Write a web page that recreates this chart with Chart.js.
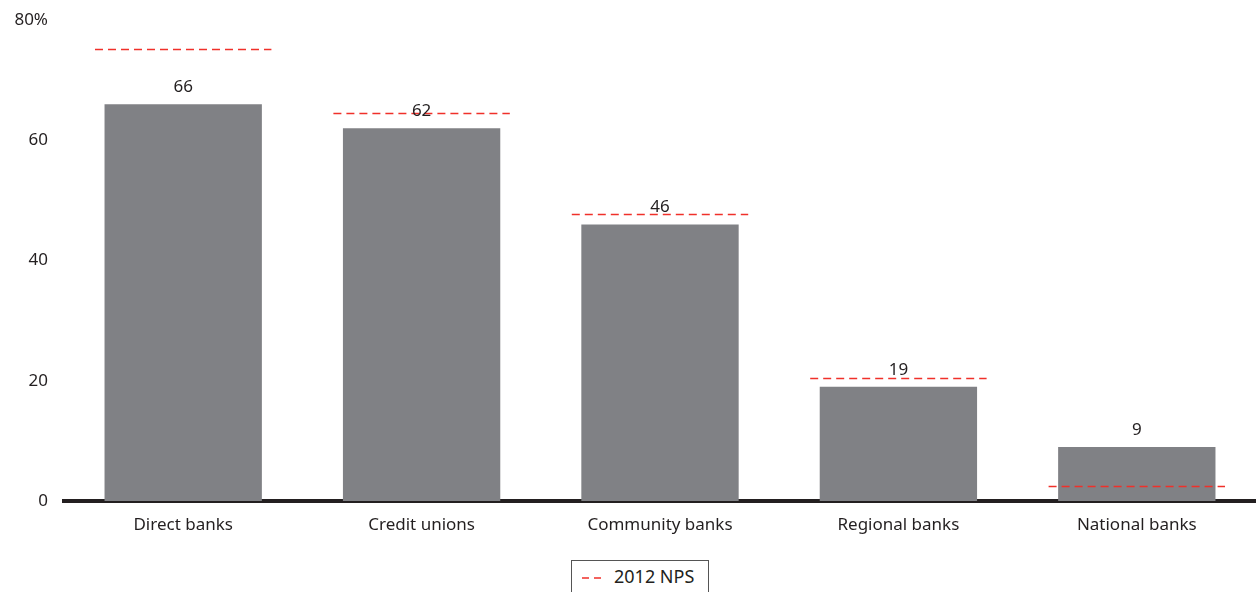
<!DOCTYPE html>
<html>
<head>
<meta charset="utf-8">
<script src="https://cdn.jsdelivr.net/npm/chart.js@4/dist/chart.umd.min.js"></script>
<style>
  html, body { margin: 0; padding: 0; background: #fff; }
  body { width: 1256px; height: 592px; overflow: hidden; font-family: "Noto Sans", "DejaVu Sans", sans-serif; }
  #wrap { position: relative; width: 1256px; height: 552px; }
  #legend {
    position: absolute; left: 571px; top: 560px; width: 138px; height: 40px;
    border: 1px solid #555; box-sizing: border-box;
    font-size: 18px; color: #231f20; line-height: 30px; padding-left: 10px;
  }
  #legend svg { vertical-align: middle; margin-right: 9px; }
</style>
</head>
<body>
<div id="wrap"><canvas id="myChart"></canvas></div>
<div id="legend"><svg width="23" height="4"><line x1="0" y1="2" x2="23" y2="2" stroke="#f0302a" stroke-width="1.5" stroke-dasharray="7,5"/></svg>2012 NPS</div>
<script>
// datos
const categorias = ['Direct banks', 'Credit unions', 'Community banks', 'Regional banks', 'National banks'];
const nps2015 = [66, 62, 46, 19, 9];
const nps2012 = [75.2, 64.5, 47.8, 20.5, 2.5];
const ticksY = [0, 20, 40, 60, 80];

const colorTexto = '#231f20';
const fuente = '"Noto Sans", "DejaVu Sans", sans-serif';

// etiquetas encima de cada barra y lineas punteadas de 2012
const extras = {
  id: 'extras',
  afterDatasetsDraw(chart) {
    const ctx = chart.ctx;
    const x = chart.scales.x;
    const y = chart.scales.y;
    const meta = chart.getDatasetMeta(0);
    const ancho = x.width / categorias.length * 0.74;

    ctx.save();
    ctx.strokeStyle = '#f0302a';
    ctx.lineWidth = 1.5;
    ctx.setLineDash([8, 5]);
    nps2012.forEach((v, i) => {
      const cx = x.getPixelForValue(i);
      const py = Math.round(y.getPixelForValue(v)) + 0.5;
      ctx.beginPath();
      ctx.moveTo(cx - ancho / 2, py);
      ctx.lineTo(cx + ancho / 2, py);
      ctx.stroke();
    });
    ctx.setLineDash([]);

    ctx.fillStyle = colorTexto;
    ctx.font = '17px ' + fuente;
    ctx.textAlign = 'center';
    ctx.textBaseline = 'middle';
    meta.data.forEach((bar, i) => {
      ctx.fillText(String(nps2015[i]), bar.x, bar.y - 17);
    });
    ctx.restore();
  }
};

function grafico() {
  const ctx = document.getElementById('myChart');
  new Chart(ctx, {
    type: 'bar',
    data: {
      labels: categorias,
      datasets: [{
        label: '2015 NPS',
        data: nps2015,
        backgroundColor: '#808185',
        barPercentage: 0.66,
        categoryPercentage: 1
      }]
    },
    options: {
      responsive: true,
      maintainAspectRatio: false,
      animation: false,
      layout: { padding: 0 },
      plugins: { legend: { display: false }, tooltip: { enabled: false } },
      scales: {
        x: {
          grid: { display: false },
          border: { display: true, color: colorTexto, width: 4 },
          ticks: { color: colorTexto, font: { size: 17, family: fuente }, padding: 6 },
          afterFit(s) { s.height = 51; }
        },
        y: {
          min: 0, max: 80,
          grid: { display: false },
          border: { display: false },
          afterBuildTicks(s) { s.ticks = ticksY.map(v => ({ value: v })); },
          ticks: {
            color: colorTexto,
            font: { size: 17, family: fuente },
            padding: 8,
            callback: v => v === 80 ? '80%' : String(v)
          },
          afterFit(s) { s.width = 64; s.paddingTop = 20; }
        }
      }
    },
    plugins: [extras]
  });
}

grafico();
</script>
</body>
</html>
